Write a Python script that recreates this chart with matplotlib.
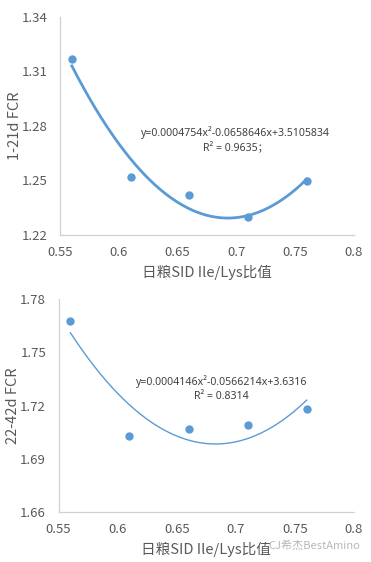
import numpy as np
import matplotlib
matplotlib.use("Agg")
import matplotlib.pyplot as plt

plt.rcParams['font.family'] = ['Noto Sans CJK SC', 'DejaVu Sans']

# data
ratio = [0.56, 0.61, 0.66, 0.71, 0.76]
fcr_1_21 = [1.3167, 1.2518, 1.2419, 1.2297, 1.2496]
fcr_22_42 = [1.7675, 1.7027, 1.7067, 1.7089, 1.7179]
# trendline coefficients as printed on the chart (x in %)
coef_1_21 = [0.0004754, -0.0658646, 3.5105834]
coef_22_42 = [0.0004146, -0.0566214, 3.6316]
eq_1_21 = "y=0.0004754x²-0.0658646x+3.5105834\nR² = 0.9635；"
eq_22_42 = "y=0.0004146x²-0.0566214x+3.6316\nR² = 0.8314"
xticks = [0.55, 0.6, 0.65, 0.7, 0.75, 0.8]
xticklabels = ["0.55", "0.6", "0.65", "0.7", "0.75", "0.8"]
yticks_top = [1.22, 1.25, 1.28, 1.31, 1.34]
yticks_bot = [1.66, 1.69, 1.72, 1.75, 1.78]

blue = '#5B9BD5'
grey_txt = '#595959'

fig = plt.figure(figsize=(3.71, 5.62), dpi=100)
ax1 = fig.add_axes([0.162, 0.582, 0.792, 0.388])
ax2 = fig.add_axes([0.158, 0.0885, 0.796, 0.3795])


def style(ax, yticks, ylabel):
    ax.set_xlim(0.55, 0.8)
    ax.set_ylim(yticks[0], yticks[-1])
    ax.set_xticks(xticks)
    ax.set_xticklabels(xticklabels)
    ax.set_yticks(yticks)
    ax.set_yticklabels(["%.2f" % v for v in yticks])
    for s in ['top', 'right']:
        ax.spines[s].set_visible(False)
    for s in ['left', 'bottom']:
        ax.spines[s].set_color('#D0D0D0')
        ax.spines[s].set_linewidth(0.9)
    ax.tick_params(length=0, labelsize=9.5, colors=grey_txt)
    ax.tick_params(axis='x', pad=8)
    ax.tick_params(axis='y', pad=9)
    ax.set_ylabel(ylabel, fontsize=10.5, color=grey_txt, labelpad=0)
    ax.set_xlabel("日粮SID Ile/Lys比值", fontsize=10.5, color=grey_txt, labelpad=4)


xs = np.linspace(ratio[0], ratio[-1], 200)

ax1.plot(xs, np.polyval(coef_1_21, xs * 100), color=blue, lw=2, zorder=2)
ax1.scatter(ratio, fcr_1_21, color=blue, s=25, zorder=3, clip_on=False)
style(ax1, yticks_top, "1-21d FCR")
ax1.text(0.699, 1.2722, eq_1_21, fontsize=7.6, color='#404040', ha='center',
         va='center', linespacing=1.4, family=['Noto Sans', 'Noto Sans CJK SC'])

ax2.plot(xs, np.polyval(coef_22_42, xs * 100), color=blue, lw=1, zorder=2)
ax2.scatter(ratio, fcr_22_42, color=blue, s=25, zorder=3, clip_on=False)
style(ax2, yticks_bot, "22-42d FCR")
ax2.text(0.688, 1.7294, eq_22_42, fontsize=7.6, color='#404040', ha='center',
         va='center', linespacing=1.4, family=['Noto Sans', 'Noto Sans CJK SC'])

fig.text(0.97, 0.03, "CJ希杰BestAmino", fontsize=8, color='#B0B0B0',
         ha='right', va='center', alpha=0.9)

fig.savefig("out.png", dpi=100)
